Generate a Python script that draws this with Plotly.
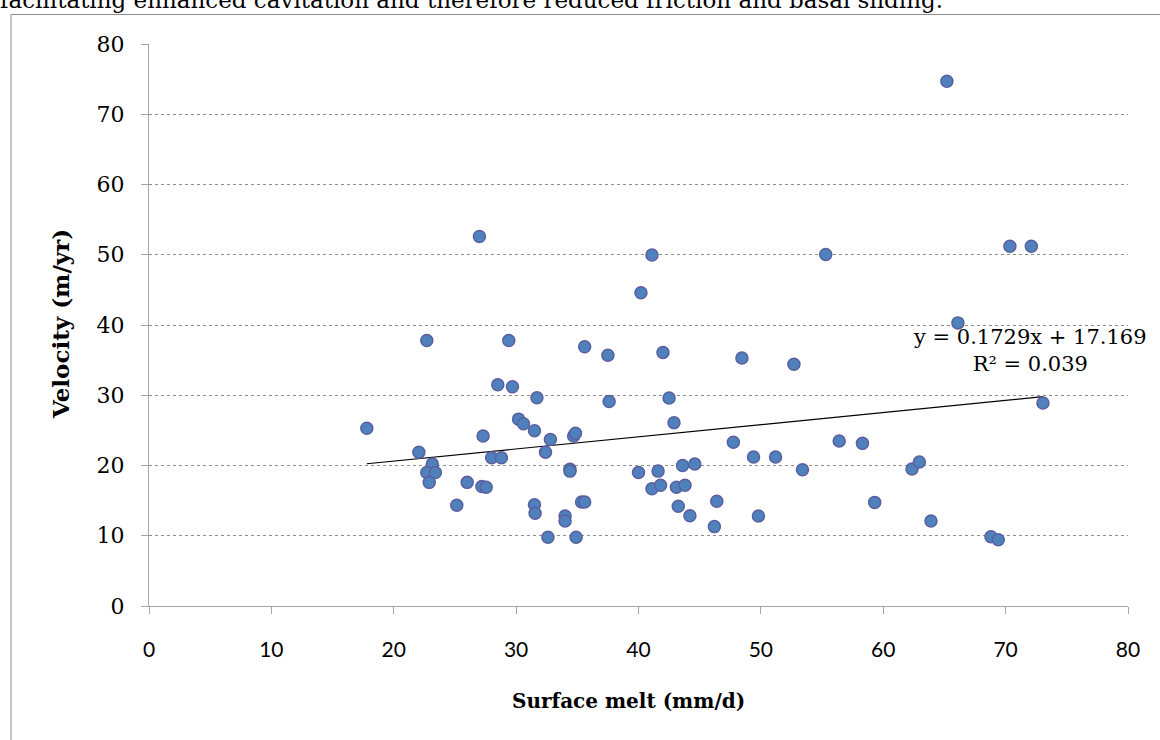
import plotly.graph_objects as go

# Data
surface_melt = [17.8, 22.05, 22.7, 23.15, 22.7, 23.4, 22.9, 25.15, 26.0, 27.0,
                27.3, 27.2, 27.55, 28.0, 28.8, 28.5, 29.4, 29.7, 30.2, 30.6,
                31.5, 31.7, 31.5, 31.55, 32.4, 32.6, 32.8, 34.0, 34.0, 34.4,
                34.4, 34.7, 34.85, 34.9, 35.35, 35.6, 35.6, 37.5, 37.6, 40.0,
                40.2, 41.1, 41.1, 41.6, 41.8, 42.0, 42.5, 42.9, 43.1, 43.25,
                43.6, 43.8, 44.2, 44.6, 46.2, 46.4, 47.75, 48.45, 49.4, 49.8,
                51.2, 52.7, 53.4, 55.3, 56.4, 58.3, 59.3, 62.35, 62.95, 63.9,
                65.2, 66.1, 68.8, 69.4, 70.35, 72.1, 73.05]
velocity = [25.3, 21.9, 37.8, 20.2, 19.0, 19.0, 17.6, 14.35, 17.6, 52.6,
            24.2, 17.0, 16.9, 21.1, 21.1, 31.5, 37.8, 31.2, 26.6, 25.95,
            24.95, 29.65, 14.4, 13.2, 21.9, 9.8, 23.7, 12.8, 12.1, 19.45,
            19.2, 24.2, 24.6, 9.8, 14.8, 14.8, 36.9, 35.7, 29.1, 19.0,
            44.6, 49.95, 16.7, 19.2, 17.2, 36.1, 29.6, 26.1, 16.9, 14.2,
            20.0, 17.2, 12.85, 20.2, 11.3, 14.9, 23.3, 35.3, 21.2, 12.8,
            21.2, 34.4, 19.4, 50.05, 23.5, 23.15, 14.75, 19.5, 20.5, 12.1,
            74.7, 40.3, 9.87, 9.44, 51.2, 51.2, 28.9]

trend_slope = 0.1729
trend_intercept = 17.169
x_ticks = [0, 10, 20, 30, 40, 50, 60, 70, 80]
y_ticks = [0, 10, 20, 30, 40, 50, 60, 70, 80]
equation_text = "y = 0.1729x + 17.169<br>R² = 0.039"
x_title = "Surface melt (mm/d)"
y_title = "Velocity (m/yr)"
top_text = "facilitating enhanced cavitation and therefore reduced friction and basal sliding."

SERIF = "DejaVu Serif"
SANS = "Lato"

trend_x = [min(surface_melt), max(surface_melt)]
trend_y = [trend_slope * v + trend_intercept for v in trend_x]

fig = go.Figure()
fig.add_trace(go.Scatter(
    x=trend_x, y=trend_y, mode="lines",
    line=dict(color="black", width=1.2), hoverinfo="skip", showlegend=False))
fig.add_trace(go.Scatter(
    x=surface_melt, y=velocity, mode="markers",
    marker=dict(size=12, color="#4F81BD", line=dict(color="#5A5FA0", width=1.5)),
    showlegend=False))

W, H = 1160, 740
L, R, T, B = 149, 32, 44, 134
pw, ph = W - L - R, H - T - B

def px_to_paper_x(px):
    return (px - L) / pw

def px_to_paper_y(py):
    return (H - B - py) / ph

fig.update_layout(
    width=W, height=H,
    margin=dict(l=L, r=R, t=T, b=B, pad=0),
    paper_bgcolor="white", plot_bgcolor="white",
    xaxis=dict(range=[0, 80], tickvals=x_ticks, ticktext=[str(v) for v in x_ticks],
               showgrid=False, zeroline=False,
               showline=True, linecolor="#A6A6A6", linewidth=1,
               ticks="outside", ticklen=7, tickcolor="#A6A6A6", tickwidth=1,
               tickfont=dict(family=SANS, size=21, color="black"),
               ticklabelstandoff=18),
    yaxis=dict(range=[0, 80], tickvals=y_ticks, ticktext=[str(v) for v in y_ticks],
               showgrid=True, gridcolor="#8C8C8C", griddash="dot", gridwidth=1,
               zeroline=False,
               showline=True, linecolor="#A6A6A6", linewidth=1,
               ticks="outside", ticklen=7, tickcolor="#A6A6A6", tickwidth=1,
               tickfont=dict(family=SERIF, size=22, color="black"),
               ticklabelstandoff=12),
    font=dict(family=SERIF, color="black"),
)

fig.add_annotation(text=equation_text, xref="paper", yref="paper",
                   x=px_to_paper_x(1030), y=px_to_paper_y(350),
                   xanchor="center", yanchor="middle", showarrow=False,
                   align="center", font=dict(family=SERIF, size=21, color="black"))
fig.add_annotation(text="<b>" + x_title + "</b>", xref="paper", yref="paper",
                   x=px_to_paper_x(628), y=px_to_paper_y(701),
                   xanchor="center", yanchor="middle", showarrow=False,
                   font=dict(family=SERIF, size=20, color="black"))
fig.add_annotation(text="<b>" + y_title + "</b>", xref="paper", yref="paper",
                   x=px_to_paper_x(60), y=px_to_paper_y(324), textangle=-90,
                   xanchor="center", yanchor="middle", showarrow=False,
                   font=dict(family=SERIF, size=23, color="black"))
fig.add_annotation(text=top_text, xref="paper", yref="paper",
                   x=px_to_paper_x(-2), y=px_to_paper_y(15),
                   xanchor="left", yanchor="bottom", showarrow=False,
                   font=dict(family=SERIF, size=23, color="black"))

# outer chart-area border
fig.add_shape(type="rect", xref="paper", yref="paper",
              x0=px_to_paper_x(11), x1=px_to_paper_x(1170),
              y0=px_to_paper_y(760), y1=px_to_paper_y(14.5),
              line=dict(color="#8C8C8C", width=1), fillcolor="rgba(0,0,0,0)", layer="below")

fig.write_html("out.html")
